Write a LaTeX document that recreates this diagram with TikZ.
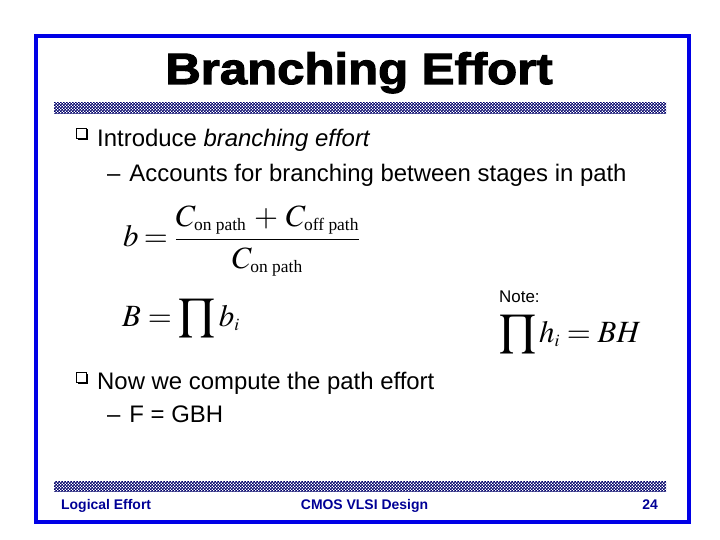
\documentclass[tikz,border=0pt]{standalone}
\usepackage{amsmath}
\usepackage{mathptmx}
\usepackage[no-math]{fontspec}
\setmainfont{Liberation Sans}
\newfontfamily\titlefont[FakeStretch=1.12,FakeBold=2.5]{Liberation Sans Bold}
\newfontfamily\timesfont{Liberation Serif}
\usetikzlibrary{patterns}
\definecolor{frameblue}{RGB}{0,0,230}
\definecolor{footblue}{RGB}{0,0,150}
\definecolor{checknavy}{RGB}{0,0,105}
\DeclareMathSizes{31}{31}{17.5}{13}
\newcommand{\tsub}[1]{\text{\timesfont #1}}
\pgfdeclarepatternformonly{finecheck}{\pgfpointorigin}{\pgfqpoint{3.4bp}{3.4bp}}{\pgfqpoint{3.4bp}{3.4bp}}{%
  \pgfpathrectangle{\pgfpointorigin}{\pgfqpoint{1.8bp}{1.8bp}}%
  \pgfpathrectangle{\pgfqpoint{1.7bp}{1.7bp}}{\pgfqpoint{1.8bp}{1.8bp}}%
  \pgfusepath{fill}}
\tikzset{
  txt/.style={anchor=base west, inner sep=0pt, font=\fontsize{24}{28}\selectfont},
  foot/.style={anchor=base west, inner sep=0pt, text=footblue, font=\fontsize{14}{16}\selectfont\bfseries},
  eq/.style={anchor=base west, inner sep=0pt, font=\fontsize{31}{36}\selectfont},
  bar/.style={pattern=finecheck, pattern color=checknavy},
}
\newcommand{\qbullet}[2]{%
  \draw[line width=0.9bp] (#1,#2) rectangle ++(10,10);
  \fill (#1+1.5,#2+10) rectangle ++(10.5,2.2);
  \fill (#1+10,#2+1.5) rectangle ++(2.2,10.7);
}
\begin{document}
\begin{tikzpicture}[x=1bp,y=-1bp]
\useasboundingbox (0,0) rectangle (720,540);
\fill[white] (0,0) rectangle (720,540);
% frame
\draw[frameblue, line width=4bp] (36,36) rectangle (689,522);
% title
\node[anchor=base, inner sep=0pt, font=\titlefont\fontsize{44}{50}\selectfont] (title) at (359,84) {Branching Effort};
% bars
\path[bar] (54,103) rectangle (666,114);
\path[bar] (54,481) rectangle (666,491);
% bullets
\qbullet{76}{128}
\node[txt] (l1) at (97,146.5) {Introduce \textit{branching effort}};
\node[txt] (l2) at (107,182) {–\hspace{9bp}Accounts for branching between stages in path};
\qbullet{76}{372}
\node[txt] (l3) at (97,389) {Now we compute the path effort};
\node[txt] (l4) at (107,422) {–\hspace{9bp}F = GBH};
% equations
\node[eq] (e1) at (123,247) {$\displaystyle b\mskip3mu{=}\mskip4mu\frac{C_{\tsub{on path}}\,+\,C_{\tsub{off path}}}{C_{\tsub{on path}}}$};
\node[eq] (e2) at (122,326) {$\displaystyle B=\prod b_i$};
\node[anchor=base west, inner sep=0pt, font=\fontsize{17}{20}\selectfont] (note) at (499,302) {Note:};
\node[eq] (e3) at (499,342) {$\displaystyle \prod h_i=BH$};
% footer
\node[foot] (f1) at (61,509) {Logical Effort};
\node[foot, anchor=base] (f2) at (364.5,509) {CMOS VLSI Design};
\node[foot, anchor=base east] (f3) at (658,509) {24};
\end{tikzpicture}
\end{document}
